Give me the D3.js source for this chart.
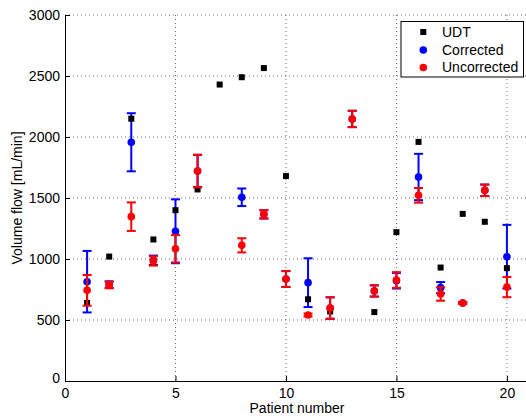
<!DOCTYPE html>
<html><head><meta charset="utf-8">
<script src="https://cdn.jsdelivr.net/npm/d3@7"></script>
<style>
html,body{margin:0;padding:0;background:#fff;overflow:hidden}
svg{display:block;font-family:"Liberation Sans",Arial,Helvetica,sans-serif}
</style></head>
<body>
<svg id="c" width="526" height="416"></svg>
<script>
const patients = [1,2,3,4,5,6,7,8,9,10,11,12,13,14,15,16,17,18,19,20];
const udt = [640,1020,2150,1160,1400,1570,2430,2490,2565,1680,670,570,null,565,1220,1960,930,1370,1305,925];
const corrected = [814,790,1957,990,1227,1721,null,1506,1366,836,806,598,2148,738,822,1672,765,639,1563,1019];
const correctedErr = [252,27,238,38,262,133,null,72,34,65,200,88,67,46,64,190,46,8,47,261];
const uncorrected = [743,787,1347,984,1084,1721,null,1112,1366,836,541,598,2148,738,828,1522,713,639,1563,770];
const uncorrectedErr = [126,27,117,38,112,133,null,58,34,65,12,88,67,46,64,60,55,8,47,83];
const xTicks = [0,5,10,15,20];
const yTicks = [0,500,1000,1500,2000,2500,3000];
const legendLabels = ["UDT","Corrected","Uncorrected"];
const xLabel = "Patient number";
const yLabel = "Volume flow [mL/min]";

const svg = d3.select("#c");
const L = 65, R = 529, T = 15, B = 381;
const x = d3.scaleLinear().domain([0,21]).range([L,R]);
const y = d3.scaleLinear().domain([0,3000]).range([B,T]);
const fs = 14;

// grid
const g = svg.append("g");
g.selectAll(".gy").data(yTicks.filter(v=>v>0)).join("line")
  .attr("x1",L).attr("x2",R).attr("y1",d=>y(d)).attr("y2",d=>y(d))
  .attr("stroke","#666").attr("stroke-width",1).attr("stroke-dasharray","1,3");
g.selectAll(".gx").data(xTicks.filter(v=>v>0)).join("line")
  .attr("x1",d=>x(d)).attr("x2",d=>x(d)).attr("y1",T).attr("y2",B)
  .attr("stroke","#666").attr("stroke-width",1).attr("stroke-dasharray","1,3");

// axes
const xa = svg.append("g").attr("transform",`translate(0,${B})`)
  .call(d3.axisBottom(x).tickValues(xTicks).tickFormat(d3.format("d")).tickSizeInner(-5).tickSizeOuter(0).tickPadding(7));
const ya = svg.append("g").attr("transform",`translate(${L},0)`)
  .call(d3.axisLeft(y).tickValues(yTicks).tickFormat(d3.format("d")).tickSizeInner(-5).tickSizeOuter(0).tickPadding(5));
[xa,ya].forEach(a=>{
  a.selectAll("text").attr("font-size",fs).attr("font-family","Liberation Sans, Arial, sans-serif").attr("fill","#000");
  a.select(".domain").attr("stroke","#000").attr("stroke-width",1);
  a.selectAll(".tick line").attr("stroke","#000");
});
ya.selectAll(".tick text").filter(d=>d===0).attr("dy","0.1em");

svg.append("text").attr("x",(L+R)/2).attr("y",412.5).attr("text-anchor","middle")
  .attr("font-size",fs).text(xLabel);
svg.append("text").attr("transform",`translate(22,${(T+B)/2}) rotate(-90)`)
  .attr("text-anchor","middle").attr("font-size",fs).text(yLabel);

function errBars(vals, errs, color){
  const d = patients.map((p,i)=>({p, v:vals[i], e:errs[i]})).filter(o=>o.v!=null);
  const grp = svg.append("g").attr("stroke",color).attr("stroke-width",2).attr("fill",color);
  grp.selectAll(".v").data(d).join("line")
    .attr("x1",o=>x(o.p)).attr("x2",o=>x(o.p)).attr("y1",o=>y(o.v-o.e)).attr("y2",o=>y(o.v+o.e));
  grp.selectAll(".t").data(d).join("line")
    .attr("x1",o=>x(o.p)-4.5).attr("x2",o=>x(o.p)+4.5).attr("y1",o=>y(o.v+o.e)).attr("y2",o=>y(o.v+o.e));
  grp.selectAll(".b").data(d).join("line")
    .attr("x1",o=>x(o.p)-4.5).attr("x2",o=>x(o.p)+4.5).attr("y1",o=>y(o.v-o.e)).attr("y2",o=>y(o.v-o.e));
  grp.selectAll("circle").data(d).join("circle")
    .attr("cx",o=>x(o.p)).attr("cy",o=>y(o.v)).attr("r",3.8).attr("stroke","none");
}

errBars(corrected, correctedErr, "#0000ff");
const ud = patients.map((p,i)=>({p,v:udt[i]})).filter(o=>o.v!=null);
svg.append("g").selectAll("rect").data(ud).join("rect")
  .attr("x",o=>x(o.p)-3).attr("y",o=>y(o.v)-3).attr("width",6).attr("height",6).attr("fill","#000");
errBars(uncorrected, uncorrectedErr, "#ff0000");

// legend
const lg = svg.append("g");
lg.append("rect").attr("x",401).attr("y",21.5).attr("width",122.5).attr("height",55.5)
  .attr("fill","#fff").attr("stroke","#000").attr("stroke-width",1);
const rowsY = [32,50,67.5];
lg.append("rect").attr("x",423.3-3).attr("y",rowsY[0]-3).attr("width",6).attr("height",6).attr("fill","#000");
lg.append("circle").attr("cx",423.3).attr("cy",rowsY[1]).attr("r",3.8).attr("fill","#0000ff");
lg.append("circle").attr("cx",423.3).attr("cy",rowsY[2]).attr("r",3.8).attr("fill","#ff0000");
lg.selectAll("text").data(legendLabels).join("text")
  .attr("x",442).attr("y",(d,i)=>rowsY[i]).attr("dy","0.35em").attr("font-size",fs).text(d=>d);
</script>
</body></html>
